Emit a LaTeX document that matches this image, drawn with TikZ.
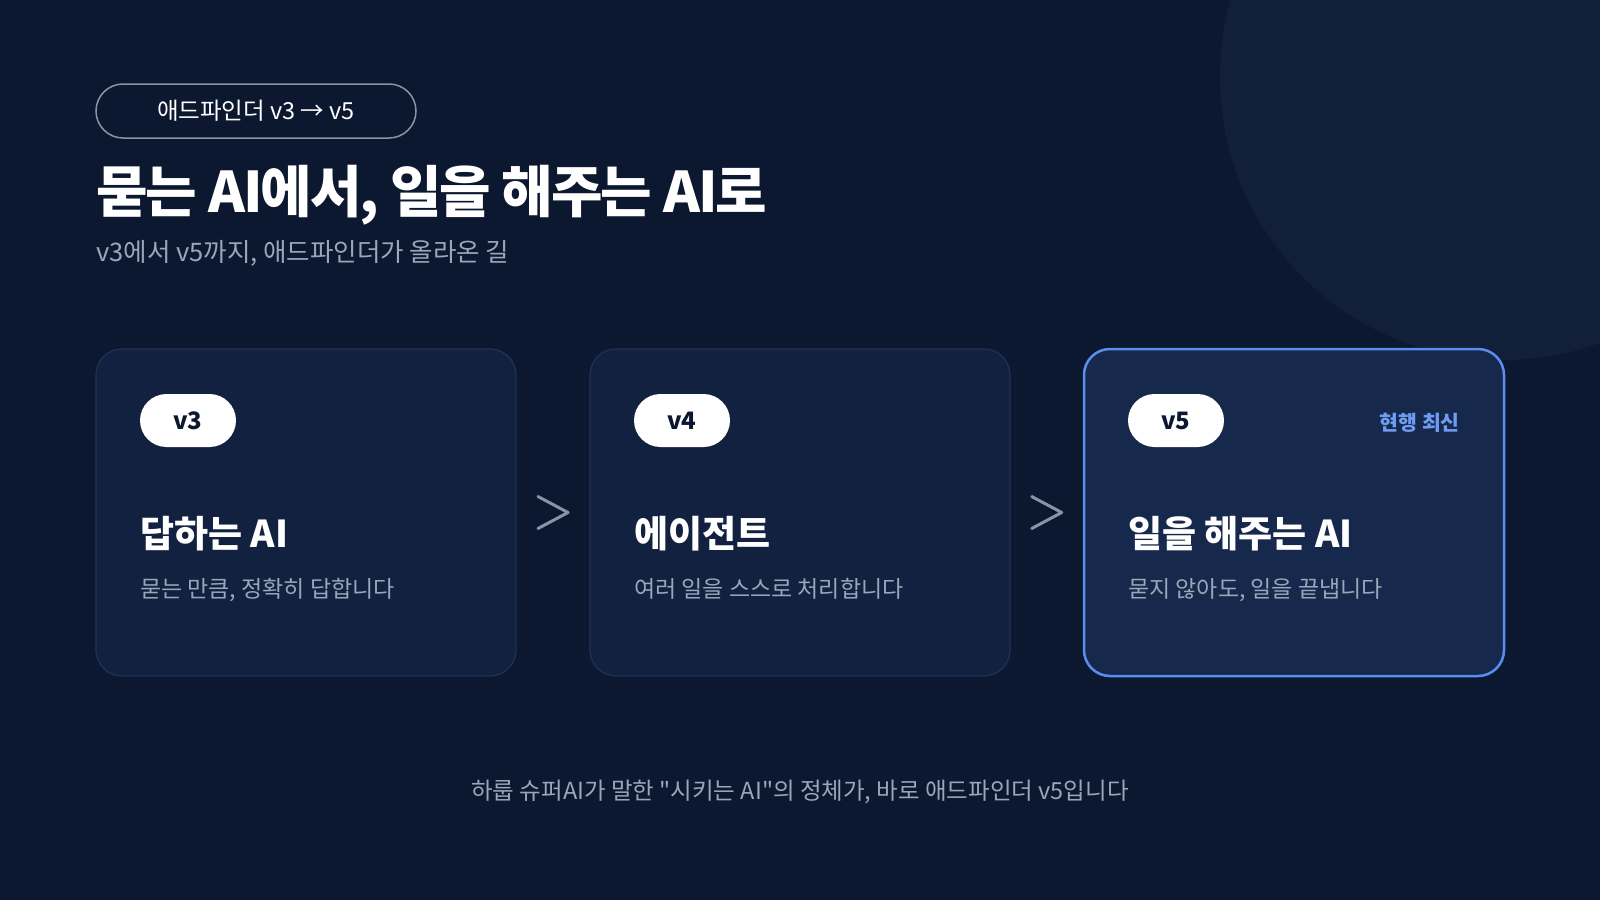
\documentclass[tikz,border=0pt]{standalone}
\usepackage{fontspec}
\setmainfont{Noto Sans CJK KR}[Ligatures=TeXOff]
\usepackage{xcolor}
\usepackage{tikz}
\usetikzlibrary{arrows.meta, positioning, calc}
\definecolor{bgNavy}{HTML}{0B1830}
\definecolor{orbNavy}{HTML}{111F38}
\definecolor{cardNavy}{HTML}{11213F}
\definecolor{cardEdge}{HTML}{1F3357}
\definecolor{activeNavy}{HTML}{16284B}
\definecolor{activeBlue}{HTML}{5B8DEF}
\definecolor{tagBlue}{HTML}{6E9CF2}
\definecolor{mutedGray}{HTML}{9AA6BA}
\definecolor{chevGray}{HTML}{8A94A6}
\tikzset{
    card_base/.style={
        rectangle, rounded corners=26pt, draw=cardEdge, line width=1.2pt,
        fill=cardNavy, minimum width=420pt, minimum height=327pt
    },
    card_active/.style={
        card_base, draw=activeBlue, line width=2.5pt, fill=activeNavy
    },
    ver_pill/.style={
        rectangle, rounded corners=26.5pt, fill=white, text=bgNavy,
        minimum width=96pt, minimum height=53pt, inner sep=0pt,
        font=\fontsize{24}{28}\selectfont\bfseries
    },
    tag_pill/.style={
        rectangle, rounded corners=27pt, draw=chevGray, line width=1.5pt,
        minimum width=320pt, minimum height=54pt, inner sep=0pt,
        text=white, font=\fontsize{23.5}{27}\selectfont
    },
    headline/.style={
        anchor=base west, inner sep=0pt, text=white,
        font=\fontsize{56}{60}\selectfont\bfseries\addfontfeatures{LetterSpace=-3.6}
    },
    subline/.style={
        anchor=base west, inner sep=0pt, text=mutedGray,
        font=\fontsize{25.5}{30}\selectfont
    },
    card_title/.style={
        anchor=base west, inner sep=0pt, text=white,
        font=\fontsize{37}{42}\selectfont\bfseries
    },
    card_desc/.style={
        anchor=base west, inner sep=0pt, text=mutedGray,
        font=\fontsize{23}{27}\selectfont
    },
    chev_line/.style={
        draw=chevGray, line width=3pt, line cap=round, line join=round
    }
}

\begin{document}
\begin{tikzpicture}[x=1pt, y=-1pt, >=Stealth]
    % Canvas and corner orb
    \useasboundingbox (0,0) rectangle (1600,900);
    \clip (0,0) rectangle (1600,900);
    \fill[bgNavy] (0,0) rectangle (1600,900);
    \fill[orbNavy] (1503,77) circle (283);

    % Header: tag, headline, subline
    \node[tag_pill] (tag) at (256,111) {애드파인더 v3 → v5};
    \node[headline] (head) at (96,212) {묻는 AI에서, 일을 해주는 AI로};
    \node[subline] (sub) at (96,261) {v3에서 v5까지, 애드파인더가 올라온 길};

    % Three version cards (left to right)
    \node[card_base] (c3) at (306,512.5) {};
    \node[card_base] (c4) at (800,512.5) {};
    \node[card_active] (c5) at (1294,512.5) {};

    % Version pills
    \node[ver_pill] (p3) at (188,420.5) {v3};
    \node[ver_pill] (p4) at (682,420.5) {v4};
    \node[ver_pill] (p5) at (1176,420.5) {v5};
    \node[anchor=base east, inner sep=0pt, text=tagBlue, font=\fontsize{20.5}{24}\selectfont\bfseries] (now) at (1460,430) {현행 최신};

    % Card titles and descriptions
    \node[card_title] (t3) at (140,547) {답하는 AI};
    \node[card_desc] (d3) at (140,597) {묻는 만큼, 정확히 답합니다};
    \node[card_title] (t4) at (634,547) {에이전트};
    \node[card_desc] (d4) at (634,597) {여러 일을 스스로 처리합니다};
    \node[card_title] (t5) at (1128,547) {일을 해주는 AI};
    \node[card_desc] (d5) at (1128,597) {묻지 않아도, 일을 끝냅니다};

    % Chevrons between cards
    \draw[chev_line] ($(c3.east)!0.5!(c4.west)+(-15,-16)$) -- ++(30,16) -- ++(-30,16);
    \draw[chev_line] ($(c4.east)!0.5!(c5.west)+(-15,-16)$) -- ++(30,16) -- ++(-30,16);

    % Footer line
    \node[anchor=base, inner sep=0pt, text=mutedGray, font=\fontsize{23.5}{27}\selectfont] (foot) at (800,799) {하룹 슈퍼AI가 말한 "시키는 AI"의 정체가, 바로 애드파인더 v5입니다};
\end{tikzpicture}
\end{document}
